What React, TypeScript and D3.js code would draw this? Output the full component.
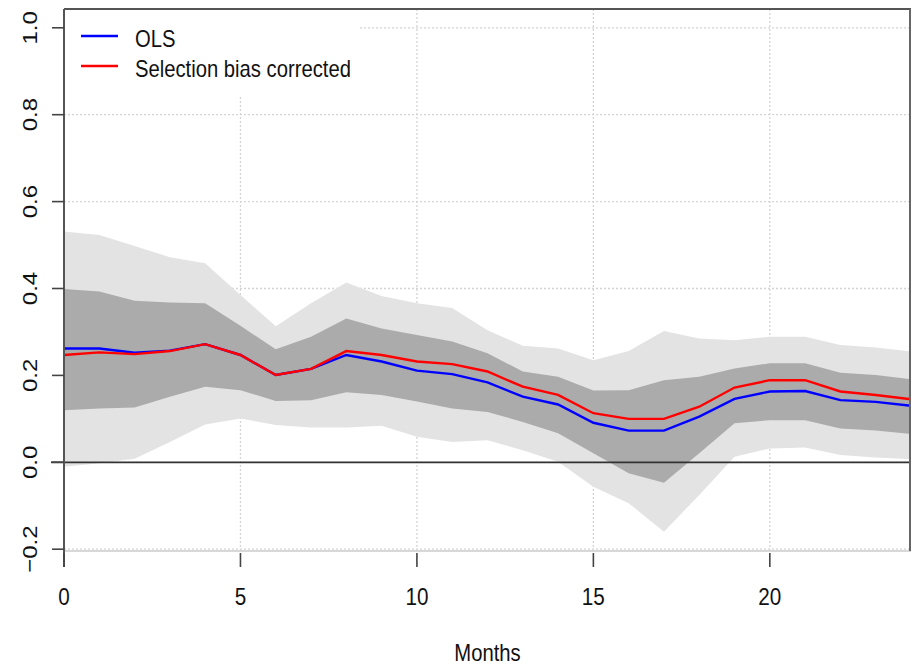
import React from "react";
import * as d3 from "d3";

// Monthly estimates with 90% (inner) and 95% (outer) confidence bands
const months = [0, 1, 2, 3, 4, 5, 6, 7, 8, 9, 10, 11, 12, 13, 14, 15, 16, 17, 18, 19, 20, 21, 22, 23, 24];
const olsValues = [0.262, 0.262, 0.252, 0.257, 0.272, 0.247, 0.201, 0.215, 0.247, 0.232, 0.211, 0.203, 0.184, 0.151, 0.133, 0.091, 0.073, 0.073, 0.105, 0.146, 0.163, 0.164, 0.143, 0.139, 0.130];
const correctedValues = [0.247, 0.253, 0.249, 0.256, 0.272, 0.247, 0.201, 0.215, 0.256, 0.247, 0.232, 0.226, 0.209, 0.174, 0.155, 0.113, 0.100, 0.100, 0.128, 0.172, 0.189, 0.189, 0.163, 0.155, 0.145];
const innerUpper = [0.399, 0.393, 0.372, 0.368, 0.366, 0.314, 0.260, 0.289, 0.331, 0.308, 0.293, 0.278, 0.251, 0.209, 0.197, 0.165, 0.166, 0.189, 0.197, 0.216, 0.228, 0.228, 0.206, 0.201, 0.191];
const innerLower = [0.120, 0.124, 0.126, 0.151, 0.174, 0.166, 0.141, 0.143, 0.161, 0.155, 0.140, 0.124, 0.116, 0.093, 0.067, 0.021, -0.025, -0.047, 0.021, 0.090, 0.097, 0.097, 0.078, 0.073, 0.065];
const outerUpper = [0.531, 0.523, 0.498, 0.472, 0.458, 0.385, 0.313, 0.366, 0.414, 0.383, 0.366, 0.355, 0.304, 0.268, 0.262, 0.235, 0.256, 0.302, 0.285, 0.281, 0.289, 0.289, 0.270, 0.264, 0.255];
const outerLower = [-0.010, -0.002, 0.008, 0.047, 0.087, 0.101, 0.086, 0.080, 0.080, 0.084, 0.059, 0.047, 0.051, 0.028, 0.001, -0.056, -0.094, -0.160, -0.075, 0.013, 0.032, 0.034, 0.017, 0.011, 0.007];

const xTicks = [0, 5, 10, 15, 20];
const yTicks = [-0.2, 0, 0.2, 0.4, 0.6, 0.8, 1.0];
const xGrid = [5, 10, 15, 20];
const seriesNames = ["OLS", "Selection bias corrected"];
const seriesColors = ["#0000ff", "#ff0000"];

const W = 913;
const H = 667;
const left = 64;
const right = 911;
const top = 9;
const bottom = 551;
const font = "'Liberation Sans', Arial, sans-serif";
const sx = 0.88; // horizontal text compression

export default function App() {
  const x = d3.scaleLinear().domain([0, 24]).range([left, right]);
  const y = d3.scaleLinear().domain([0, 1]).range([462.3, 27.8]);

  const band = (lo: number[], hi: number[]) =>
    d3
      .area<number>()
      .x((_, i) => x(months[i]))
      .y0((_, i) => y(lo[i]))
      .y1((_, i) => y(hi[i]))(months) || "";

  const line = (vals: number[]) =>
    d3
      .line<number>()
      .x((_, i) => x(months[i]))
      .y((_, i) => y(vals[i]))(months) || "";

  const fmt = d3.format(".1f");

  return (
    <svg
      width={W}
      height={H}
      style={{ position: "absolute", left: 0, top: 0, background: "#fff" }}
    >
      <defs>
        <clipPath id="plotArea">
          <rect x={left} y={top} width={right - left} height={bottom - top} />
        </clipPath>
      </defs>

      {/* dotted grid */}
      <g stroke="#d4d4d4" strokeWidth={1.3} strokeDasharray="2,2">
        {yTicks.map((t) => (
          <line key={"gy" + t} x1={left} x2={right} y1={y(t)} y2={y(t)} />
        ))}
        {xGrid.map((t) => (
          <line key={"gx" + t} x1={x(t)} x2={x(t)} y1={top} y2={bottom} />
        ))}
      </g>

      {/* confidence bands */}
      <g clipPath="url(#plotArea)">
        <path d={band(outerLower, outerUpper)} fill="#e3e3e3" />
        <path d={band(innerLower, innerUpper)} fill="#ababab" />
        <line x1={left - 13} x2={right} y1={y(0)} y2={y(0)} stroke="#333" strokeWidth={1.8} />
        <path d={line(olsValues)} fill="none" stroke={seriesColors[0]} strokeWidth={2.4} />
        <path d={line(correctedValues)} fill="none" stroke={seriesColors[1]} strokeWidth={2.4} />
      </g>
      <line x1={left - 13} x2={left} y1={y(0)} y2={y(0)} stroke="#333" strokeWidth={1.8} />

      {/* frame */}
      <line x1={left} x2={right} y1={bottom} y2={bottom} stroke="#d8d8d8" strokeWidth={2} />
      <line x1={left} x2={right} y1={top} y2={top} stroke="#555" strokeWidth={2} />
      <line x1={right - 1} x2={right - 1} y1={top} y2={bottom} stroke="#666" strokeWidth={2} />
      <line x1={left} x2={left} y1={top} y2={567} stroke="#555" strokeWidth={2} />

      {/* y axis */}
      {yTicks.map((t) => (
        <g key={"yt" + t}>
          <line x1={52} x2={left} y1={y(t)} y2={y(t)} stroke="#444" strokeWidth={1.6} />
          <g transform={`translate(36.5,${y(t)}) scale(${sx},1) rotate(-90)`}>
            <text
              x={0}
              y={0}
              textAnchor="middle"
              fontFamily={font}
              fontSize={24}
              fill="#111"
            >
              {fmt(t)}
            </text>
          </g>
        </g>
      ))}

      {/* x axis */}
      {xTicks.map((t) => (
        <g key={"xt" + t}>
          <line x1={x(t)} x2={x(t)} y1={553} y2={567} stroke="#444" strokeWidth={1.6} />
          <g transform={`translate(${x(t)},605) scale(${sx},1)`}>
            <text x={0} y={0} textAnchor="middle" fontFamily={font} fontSize={23.5} fill="#111">
              {t}
            </text>
          </g>
        </g>
      ))}
      <g transform={`translate(${(left + right) / 2},661) scale(${sx},1)`}>
        <text x={0} y={0} textAnchor="middle" fontFamily={font} fontSize={23} fill="#111">
          Months
        </text>
      </g>

      {/* legend */}
      <rect x={left + 1} y={top + 1} width={293} height={85} fill="#fff" />
      {seriesNames.map((name, i) => (
        <g key={name}>
          <line
            x1={81}
            x2={118}
            y1={36 + i * 30}
            y2={36 + i * 30}
            stroke={seriesColors[i]}
            strokeWidth={2.4}
          />
          <g transform={`translate(135,${46.5 + i * 30}) scale(${sx},1)`}>
            <text x={0} y={0} fontFamily={font} fontSize={23} fill="#111">
              {name}
            </text>
          </g>
        </g>
      ))}
    </svg>
  );
}
